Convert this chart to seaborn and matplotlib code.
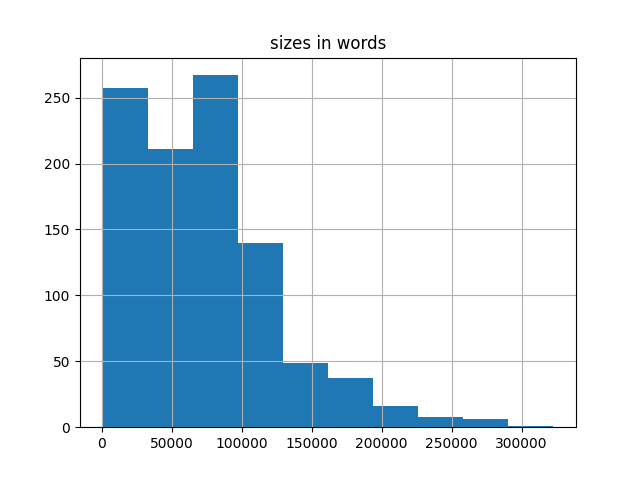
import numpy as np
import pandas as pd
import matplotlib
matplotlib.use("Agg")
import matplotlib.pyplot as plt
import seaborn as sns

# histogram: 10 equal bins between min and max word count
size_min = 500
size_max = 322700
counts = [257, 211, 267, 140, 49, 37, 16, 8, 6, 1]


def main():
    edges = np.linspace(size_min, size_max, len(counts) + 1)
    centers = (edges[:-1] + edges[1:]) / 2
    df = pd.DataFrame({"size": centers, "n": counts})

    fig, ax = plt.subplots(figsize=(6.4, 4.8), dpi=100)
    sns.histplot(data=df, x="size", weights="n", bins=list(edges), ax=ax,
                 color="#1f77b4", alpha=1, linewidth=0)
    ax.grid(True, color="#b0b0b0", linewidth=0.8)
    ax.set_title("sizes in words")
    ax.set_xlabel("")
    ax.set_ylabel("")
    fig.savefig("out.png", dpi=100)


if __name__ == "__main__":
    main()
